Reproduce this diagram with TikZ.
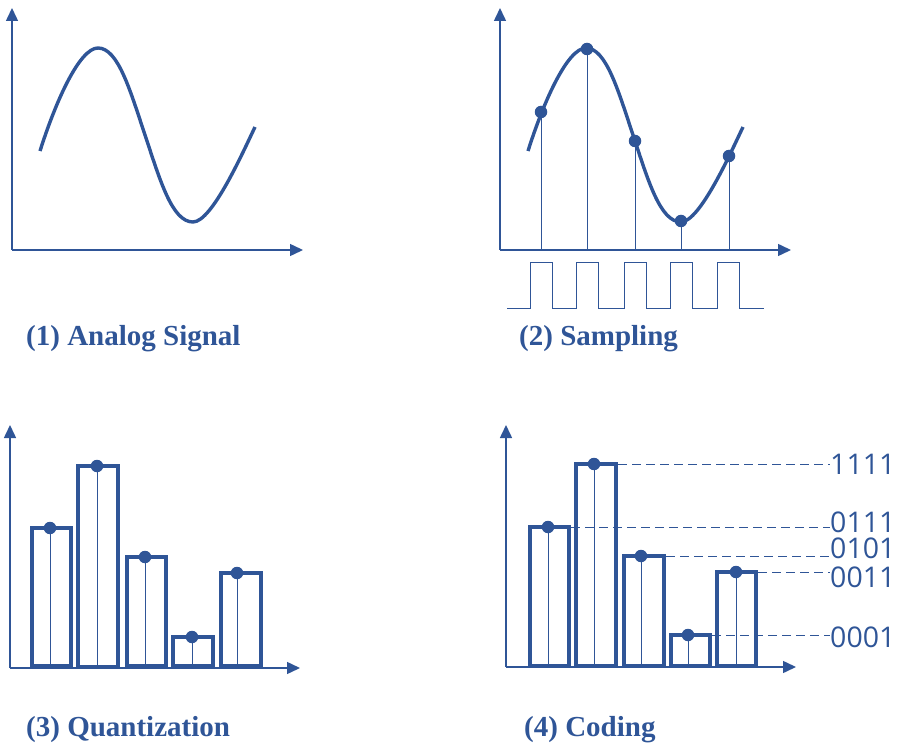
\documentclass[tikz,border=0pt]{standalone}
\usepackage{fontspec}
\setmainfont{Liberation Serif}
\newfontfamily\codefont{Open Sans}
\usetikzlibrary{arrows.meta}
\definecolor{sigblue}{RGB}{47,85,151}
\begin{document}
\begin{tikzpicture}[x=1pt,y=-1pt,
  axis/.style={draw=sigblue, line width=1.5pt, -{Triangle[width=12pt,length=13pt]}},
  wave/.style={draw=sigblue, line width=3.4pt},
  stem/.style={draw=sigblue, line width=0.9pt},
  bar/.style={draw=sigblue, line width=3.5pt},
  sdot/.style={circle, fill=sigblue, inner sep=0pt, minimum size=12.5pt},
  level/.style={draw=sigblue, line width=0.9pt, dash pattern=on 9pt off 5pt},
  title/.style={text=sigblue, font=\fontsize{29}{34}\selectfont\bfseries, anchor=base west, inner sep=0pt},
  code/.style={text=sigblue, font=\codefont\fontsize{28.5}{34}\selectfont, anchor=west, inner sep=0pt},
  pulse/.style={draw=sigblue, line width=1pt}]
\useasboundingbox (0,0) rectangle (908,743);

% ---------- (1) Analog signal ----------
\coordinate (o1) at (12,250);
\coordinate (y1) at (12,8);
\coordinate (x1) at (303,250);
\draw[axis] (o1) -- (y1);
\draw[axis] (o1) -- (x1);
\draw[wave] (40,151) .. controls (56.5,99) and (80,48) .. (98,48)
  .. controls (118,48) and (130,90) .. (145,135)
  .. controls (160,180) and (172,222) .. (193,222)
  .. controls (212,222) and (243,152) .. (255,127);
\node[title] (t1) at (26,346) {(1) Analog Signal};

% ---------- (2) Sampling ----------
\coordinate (o2) at (500,250);
\coordinate (y2) at (500,8);
\coordinate (x2) at (791,250);
\draw[axis] (o2) -- (y2);
\draw[axis] (o2) -- (x2);
\begin{scope}[shift={(488,0)}]
\draw[wave] (40,151) .. controls (56.5,99) and (80,48) .. (98,48)
  .. controls (118,48) and (130,90) .. (145,135)
  .. controls (160,180) and (172,222) .. (193,222)
  .. controls (212,222) and (243,152) .. (255,127);
\end{scope}
\coordinate (p1) at (541,112);
\coordinate (p2) at (587,49);
\coordinate (p3) at (635,141);
\coordinate (p4) at (681,221);
\coordinate (p5) at (729,156);
\foreach \p in {p1,p2,p3,p4,p5}{
  \draw[stem] (\p) -- (\p |- o2);
}
\foreach \p/\n in {p1/s1,p2/s2,p3/s3,p4/s4,p5/s5}{
  \node[sdot] (\n) at (\p) {};
}
\draw[pulse] (507,309) -- (530,309) -- (530,263) -- (552,263) -- (552,309)
  -- (576,309) -- (576,263) -- (598,263) -- (598,309)
  -- (624,309) -- (624,263) -- (646,263) -- (646,309)
  -- (670,309) -- (670,263) -- (692,263) -- (692,309)
  -- (717,309) -- (717,263) -- (739,263) -- (739,309) -- (764,309);
\node[title] (t2) at (519,346) {(2) Sampling};

% ---------- (3) Quantization ----------
\coordinate (o3) at (10,668);
\coordinate (y3) at (10,425);
\coordinate (x3) at (300,668);
\draw[axis] (o3) -- (y3);
\draw[axis] (o3) -- (x3);
\draw[bar] (32,666) rectangle (71,528);
\draw[bar] (78,667) rectangle (118,466);
\draw[bar] (127,666) rectangle (166,557);
\draw[bar] (173,666) rectangle (213,637);
\draw[bar] (221,666) rectangle (261,573);
\coordinate (q1) at (50,528);
\coordinate (q2) at (97,466);
\coordinate (q3) at (145,557);
\coordinate (q4) at (192,637);
\coordinate (q5) at (237,573);
\coordinate (b3) at (0,666);
\foreach \p in {q1,q2,q3,q4,q5}{
  \draw[stem] (\p) -- (\p |- b3);
}
\foreach \p/\n in {q1/r1,q2/r2,q3/r3,q4/r4,q5/r5}{
  \node[sdot] (\n) at (\p) {};
}
\node[title] (t3) at (26,736) {(3) Quantization};

% ---------- (4) Coding ----------
\coordinate (o4) at (506,667);
\coordinate (y4) at (506,425);
\coordinate (x4) at (796,667);
\draw[axis] (o4) -- (y4);
\draw[axis] (o4) -- (x4);
\draw[bar] (530,666) rectangle (569,527);
\draw[bar] (576,666) rectangle (616,464);
\draw[bar] (624,666) rectangle (664,556);
\draw[bar] (671,666) rectangle (710,635);
\draw[bar] (717,666) rectangle (756,572);
\coordinate (c1) at (548,527);
\coordinate (c2) at (594,464);
\coordinate (c3) at (641,556);
\coordinate (c4) at (688,635);
\coordinate (c5) at (736,572);
\coordinate (b4) at (0,666);
\foreach \p in {c1,c2,c3,c4,c5}{
  \draw[stem] (\p) -- (\p |- b4);
}
\foreach \p/\n in {c1/k1,c2/k2,c3/k3,c4/k4,c5/k5}{
  \node[sdot] (\n) at (\p) {};
}
\coordinate (e) at (830,0);
\coordinate (l1) at (618,464);
\coordinate (l2) at (571,527);
\coordinate (l3) at (666,556);
\coordinate (l4) at (758,572);
\coordinate (l5) at (712,635);
\foreach \l in {l1,l2,l3,l4,l5}{
  \draw[level] (\l) -- (\l -| e);
}
\node[code] (v1) at (830,464.5) {1111};
\node[code] (v2) at (830,522) {0111};
\node[code] (v3) at (830,548.5) {0101};
\node[code] (v4) at (830,577.5) {0011};
\node[code] (v5) at (830,637) {0001};
\node[title] (t4) at (524,736) {(4) Coding};
\end{tikzpicture}
\end{document}
